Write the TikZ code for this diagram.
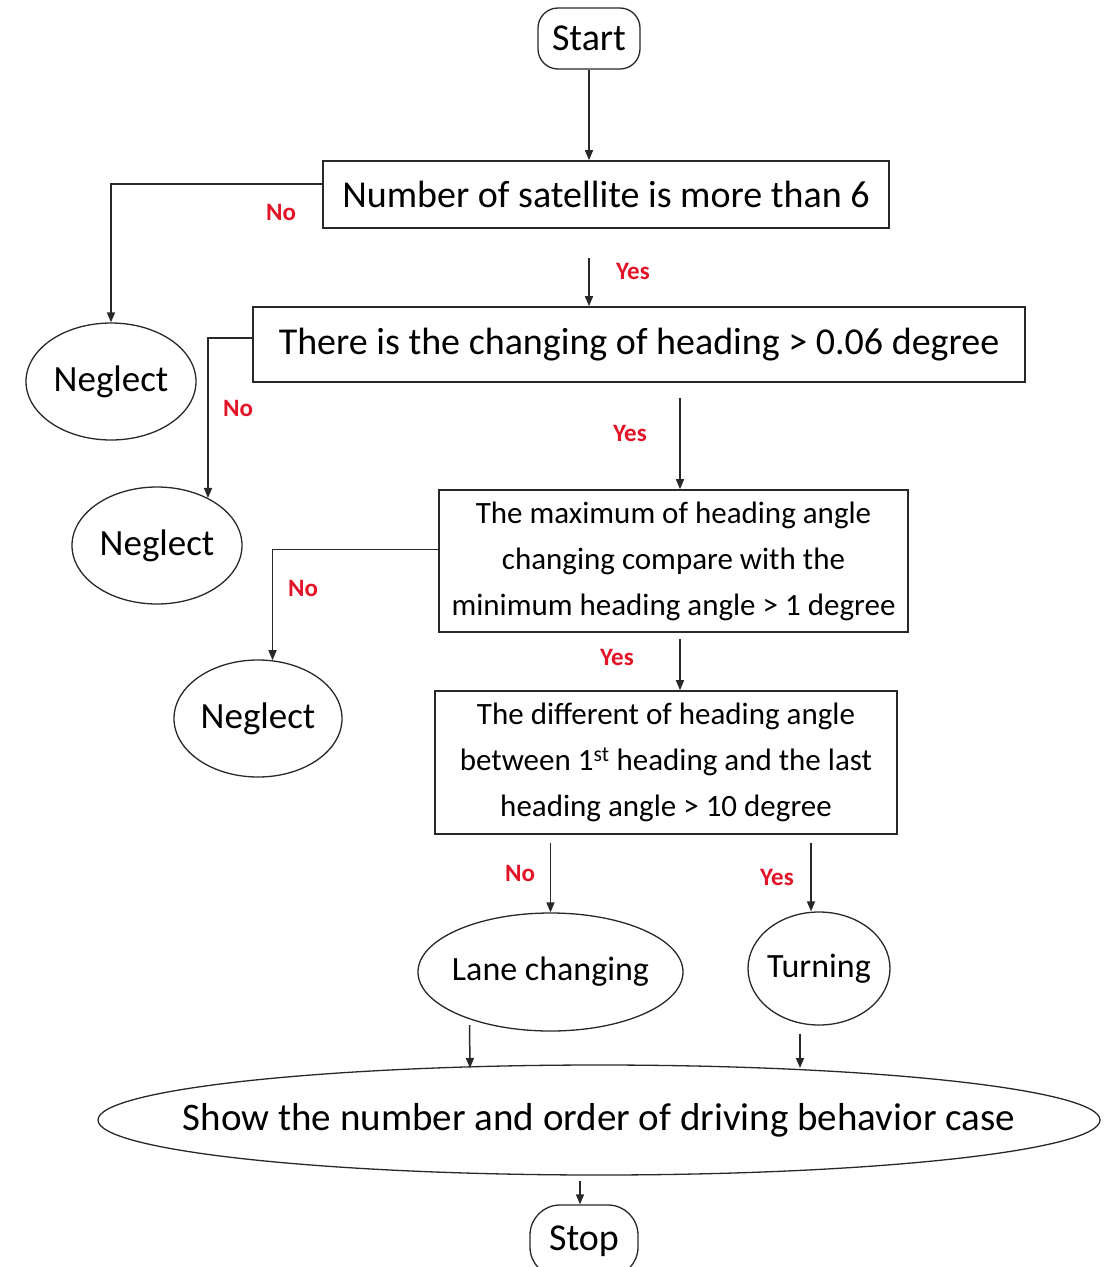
\documentclass[tikz,border=0pt]{standalone}
\usepackage{fontspec}
\setmainfont{Carlito}
\usetikzlibrary{shapes.geometric,arrows.meta,calc}
\definecolor{lred}{RGB}{228,20,40}
\definecolor{lgray}{RGB}{40,40,40}
\begin{document}
\begin{tikzpicture}[x=1pt,y=-1pt,
  box/.style={draw=lgray, line width=1.6pt, inner sep=0pt, align=center, font=\fontsize{38}{46}\selectfont},
  sbox/.style={box, font=\fontsize{31}{46}\selectfont},
  oval/.style={draw=lgray, ellipse, line width=1.3pt, inner sep=0pt},
  term/.style={draw=lgray, rounded corners=20pt, line width=1.3pt, inner sep=0pt, font=\fontsize{38}{46}\selectfont},
  arr/.style={draw=lgray, line width=1.5pt, -{Triangle[width=8pt,length=10pt]}},
  lab/.style={text=lred, font=\fontsize{25}{30}\selectfont\bfseries}]
\useasboundingbox (0,0) rectangle (1112,1267);
\node[term, minimum width=102pt, minimum height=61pt] (start) at (589,38.5) {Start};
\node[box, minimum width=566pt, minimum height=67pt] (b1) at (606,194.5) {Number of satellite is more than 6};
\node[box, minimum width=772pt, minimum height=75pt] (b2) at (639,344.5) {There is the changing of heading > 0.06 degree};
\node[sbox, minimum width=469pt, minimum height=142pt] (b3) at (673.5,561) {The maximum of heading angle\\changing compare with the\\minimum heading angle > 1 degree};
\node[sbox, minimum width=462pt, minimum height=143pt] (b4) at (666,762.5) {The different of heading angle\\between 1\textsuperscript{st} heading and the last\\heading angle > 10 degree};
\node[oval, minimum width=170pt, minimum height=117pt, font=\fontsize{37}{44}\selectfont] (n1) at (111,381.5) {\makebox[0pt]{Neglect}};
\node[oval, minimum width=170pt, minimum height=117pt, font=\fontsize{37}{44}\selectfont] (n2) at (157,545.5) {\makebox[0pt]{Neglect}};
\node[oval, minimum width=168pt, minimum height=117pt, font=\fontsize{37}{44}\selectfont] (n3) at (258,718.5) {\makebox[0pt]{Neglect}};
\node[oval, minimum width=265pt, minimum height=118pt, font=\fontsize{34}{40}\selectfont] (lane) at (550.5,972) {\makebox[0pt]{Lane changing}};
\node[oval, minimum width=142pt, minimum height=113pt, font=\fontsize{34}{40}\selectfont] (turn) at (819,968.5) {\makebox[0pt]{Turning}};
\node[oval, minimum width=1002pt, minimum height=110pt, font=\fontsize{39}{46}\selectfont] (big) at (599,1120) {\makebox[0pt]{Show the number and order of driving behavior case}};
\node[term, minimum width=108pt, minimum height=72pt, rounded corners=30pt] (stop) at (584,1241) {Stop};
% connectors
\draw[arr] (start.south) -- (start.south |- b1.north);
\draw[arr] ([yshift=10.5pt]b1.west) -| (n1.north);
\draw[arr] ($(start.south |- b1.south)+(0,29)$) -- (start.south |- b2.north);
\draw[arr] ([yshift=6.5pt]b2.west) -| (n2.43);
\draw[arr] ($(b2.south -| b3.north)+(6.5,15)$) -- ([xshift=6.5pt]b3.north);
\draw[arr] ([yshift=11.5pt]b3.west) -| (n3.76);
\draw[arr] ($(b3.south -| b4.north)+(14,6)$) -- ([xshift=14pt]b4.north);
\draw[arr] ($(b4.south -| lane.north)+(0,8)$) -- (lane.north);
\draw[arr] ($(b4.south -| turn.north)+(-8,8)$) -- ([xshift=-8pt]turn.north);
\draw[arr] ($(lane.center)+(-81,53)$) -- ($(big.center)+(-129,-52)$);
\draw[arr] ($(turn.center)+(-19,65)$) -- ($(big.center)+(201,-52)$);
\draw[arr] ($(big.south)+(-19,5)$) -- ($(stop.north)+(-4,0)$);
% labels
\node[lab] (l1) at (281,212) {No};
\node[lab] (l2) at (633,271) {Yes};
\node[lab] (l3) at (238,408) {No};
\node[lab] (l4) at (630,433) {Yes};
\node[lab] (l5) at (303,588) {No};
\node[lab] (l6) at (617,657) {Yes};
\node[lab] (l7) at (520,873) {No};
\node[lab] (l8) at (777,877) {Yes};
\end{tikzpicture}
\end{document}
